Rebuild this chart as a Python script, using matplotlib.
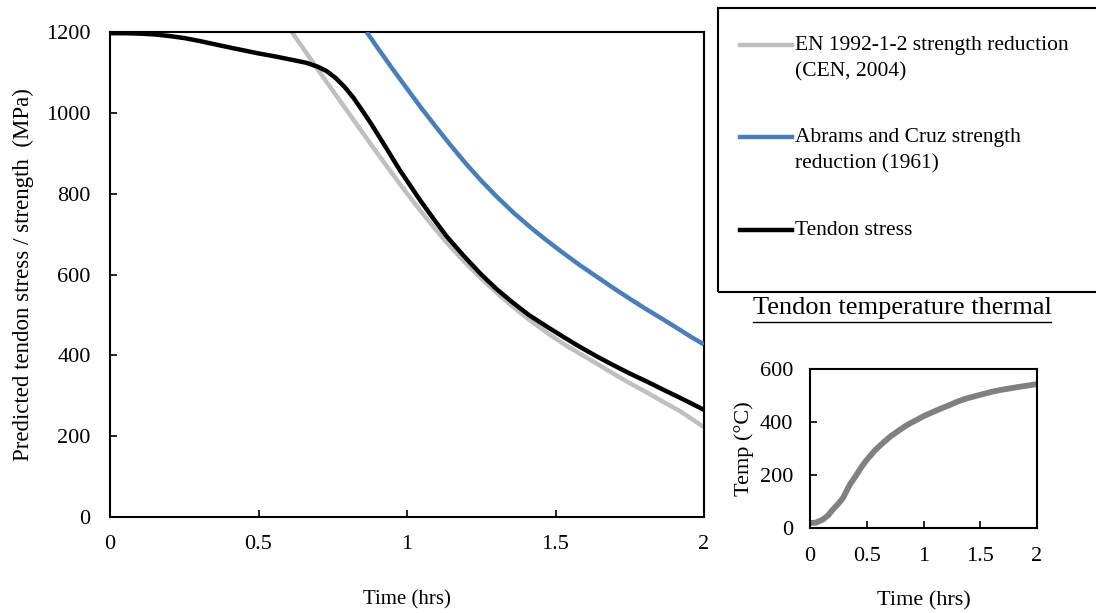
import matplotlib
matplotlib.use("Agg")
import matplotlib.pyplot as plt
from matplotlib.lines import Line2D
from matplotlib.patches import Rectangle

plt.rcParams['font.family'] = ['Liberation Serif', 'DejaVu Serif']

# ---- data ----
t_tendon = [0, 0.05, 0.1, 0.15, 0.2, 0.25, 0.3, 0.35, 0.414, 0.5, 0.56, 0.62, 0.66,
            0.7, 0.73, 0.76, 0.79, 0.82, 0.85, 0.88, 0.92, 0.976, 1.044, 1.09,
            1.134, 1.19, 1.246, 1.3, 1.357, 1.41, 1.471, 1.53, 1.582, 1.64, 1.694,
            1.75, 1.808, 1.86, 1.919, 1.96, 2.0]
v_tendon = [1197, 1197, 1196, 1194, 1190, 1185, 1178, 1170, 1160, 1147, 1139, 1130,
            1124, 1114, 1103, 1086, 1064, 1037, 1005, 972, 925, 858, 784, 737,
            694, 647, 603, 565, 530, 500, 471, 444, 421, 397, 376,
            355, 335, 316, 295, 280, 265]

t_en = [0.612, 0.65, 0.685, 0.72, 0.75, 0.78, 0.808, 0.835, 0.864, 0.89, 0.92, 0.95,
        0.976, 1.01, 1.044, 1.09, 1.134, 1.19, 1.246, 1.3, 1.357, 1.41, 1.471, 1.53,
        1.582, 1.64, 1.694, 1.75, 1.808, 1.86, 1.919, 1.96, 2.0]
v_en = [1200, 1160, 1123, 1086, 1055, 1024, 995, 967, 937, 910, 880, 850,
        824, 791, 759, 717, 679, 634, 593, 556, 520, 489, 456, 427,
        404, 379, 355, 331, 308, 286, 262, 242, 222]

t_ac = [0.864, 0.9, 0.95, 1.0, 1.044, 1.1, 1.15, 1.2, 1.25, 1.303, 1.36, 1.42, 1.471,
        1.53, 1.582, 1.64, 1.694, 1.75, 1.808, 1.86, 1.919, 1.96, 2.0]
v_ac = [1200, 1162, 1110, 1060, 1016, 963, 917, 873, 832, 792, 752, 714, 684,
        651, 623, 594, 567, 540, 513, 490, 463, 444, 427]

t_temp = [0, 0.05, 0.11, 0.16, 0.2, 0.25, 0.29, 0.32, 0.35, 0.41, 0.45, 0.5, 0.57,
          0.64, 0.71, 0.79, 0.86, 0.94, 1.01, 1.09, 1.16, 1.23, 1.3, 1.38, 1.45,
          1.53, 1.6, 1.68, 1.75, 1.82, 1.91, 2.0]
v_temp = [19, 20, 31, 48, 69, 92, 113, 138, 163, 201, 228, 257, 292,
          320, 346, 370, 390, 408, 424, 439, 452, 464, 477, 489, 497,
          506, 514, 521, 526, 531, 537, 543]

main_xticks = [0, 0.5, 1, 1.5, 2]
main_xticklabels = ['0', '0.5', '1', '1.5', '2']
main_yticks = [0, 200, 400, 600, 800, 1000, 1200]
inset_yticks = [0, 200, 400, 600]

labels = ['EN 1992-1-2 strength reduction\n(CEN, 2004)',
          'Abrams and Cruz strength\nreduction (1961)',
          'Tendon stress']
colors = ['#BFBFBF', '#4A7EBB', '#000000']

W, H = 1096, 613
fig = plt.figure(figsize=(W / 100, H / 100), dpi=100)

def fx(px):
    return px / W

def fy(py):
    return 1 - py / H

# ---- main axes ----
ax = fig.add_axes([fx(110), fy(517), fx(704) - fx(110), fy(32) - fy(517)])
ax.plot(t_en, v_en, color=colors[0], lw=3.2, solid_capstyle='butt', zorder=2)
ax.plot(t_ac, v_ac, color=colors[1], lw=3.2, solid_capstyle='butt', zorder=3)
ax.plot(t_tendon, v_tendon, color=colors[2], lw=3.2, solid_capstyle='butt', zorder=4)
ax.set_xlim(0, 2)
ax.set_ylim(0, 1200)
ax.set_xticks(main_xticks)
ax.set_xticklabels(main_xticklabels)
ax.set_yticks(main_yticks)
ax.tick_params(direction='in', length=5, width=1.2, labelsize=16, pad=14)
ax.tick_params(axis='x', pad=13)
for s in ax.spines.values():
    s.set_linewidth(1.5)
    s.set_color('black')
ax.set_xlabel('Time (hrs)', fontsize=15, labelpad=26)
ax.set_ylabel('Predicted tendon stress / strength  (MPa)', fontsize=16.5, labelpad=9)

# ---- legend (manual box) ----
fig.patches.append(Rectangle((fx(718), fy(292)), fx(1100) - fx(718), fy(8) - fy(292),
                             transform=fig.transFigure, fill=False, lw=1.5,
                             ec='black', zorder=1))
entry_y = [45, 137, 230]
for lab, c, yy in zip(labels, colors, entry_y):
    fig.add_artist(Line2D([fx(740), fx(792)], [fy(yy), fy(yy)], color=c, lw=3.2,
                          transform=fig.transFigure))
    fig.text(fx(795), fy(yy - 9), lab, fontsize=15.5, ha='left', va='top',
             linespacing=1.52)

# ---- inset ----
ax2 = fig.add_axes([fx(810), fy(528), fx(1037) - fx(810), fy(369) - fy(528)])
ax2.plot(t_temp, v_temp, color='#808080', lw=4.2, solid_capstyle='butt')
ax2.set_xlim(0, 2)
ax2.set_ylim(0, 600)
ax2.set_xticks(main_xticks)
ax2.set_xticklabels(main_xticklabels)
ax2.set_yticks(inset_yticks)
ax2.tick_params(direction='in', length=5, width=1.2, labelsize=16, pad=12)
ax2.tick_params(axis='x', pad=14)
for s in ax2.spines.values():
    s.set_linewidth(1.5)
    s.set_color('black')
ax2.set_xlabel('Time (hrs)', fontsize=16, labelpad=18)
ax2.set_ylabel('Temp (°C)', fontsize=16, labelpad=4)

# title with underline
title = fig.text(fx(902), fy(308), 'Tendon temperature thermal', fontsize=19,
                 ha='center', va='center')
fig.canvas.draw()
bb = title.get_window_extent(renderer=fig.canvas.get_renderer())
fig.add_artist(Line2D([bb.x0 / W, bb.x1 / W], [fy(322), fy(322)], color='black',
                      lw=1.0, transform=fig.transFigure))

fig.savefig('out.png', dpi=100)
